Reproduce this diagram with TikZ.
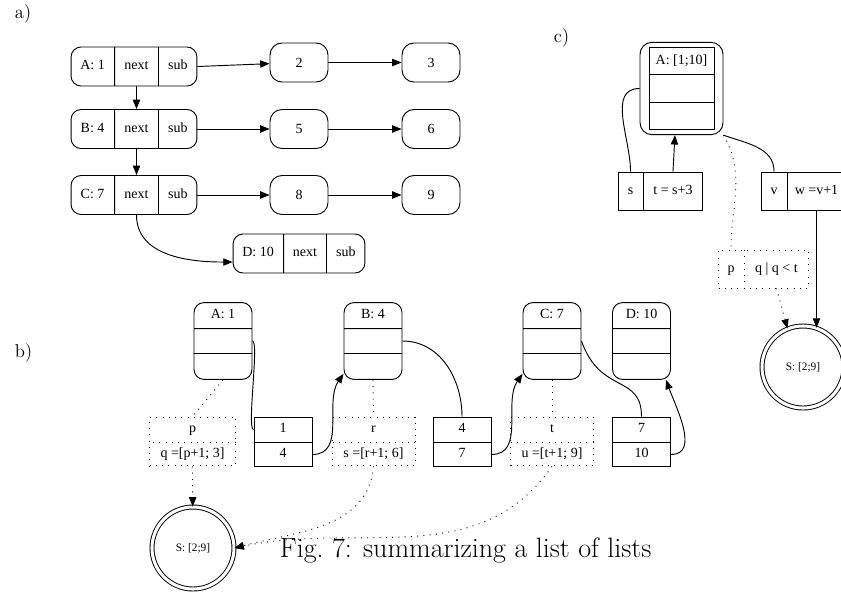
\documentclass[tikz,border=0pt]{standalone}
\usepackage{fontspec}
\newfontfamily\gvfont{Liberation Serif}
\usetikzlibrary{shapes.multipart,arrows.meta,fit}
\newcommand\cellbox[3][29.25pt]{\parbox[c][#1][c]{#2}{\centering\strut #3}}

\begin{document}
\begin{tikzpicture}[x=0.75pt,y=-0.75pt,line width=0.7pt,
    >={Triangle[length=7pt,width=5.5pt]},
    rec/.style={draw,rectangle split,rectangle split parts=3,inner sep=0pt,rounded corners=7.5pt,font=\fontsize{10.5}{12}\gvfont},
    hrec/.style={rec,rectangle split horizontal},
    val/.style={draw,rounded corners=9pt,minimum width=43.5pt,minimum height=29.25pt,inner sep=0pt,font=\fontsize{10.5}{12}\gvfont},
    box/.style={draw,rectangle split,rectangle split parts=2,inner sep=0pt,font=\fontsize{10.5}{12}\gvfont},
    hbox/.style={box,rectangle split horizontal},
    dots/.style={loosely dotted},
    sum/.style={draw,circle,double,double distance=2.3pt,minimum size=61.5pt,inner sep=0pt,font=\fontsize{8.5}{10}\gvfont},
    lab/.style={anchor=base west,font=\fontsize{14}{16}\selectfont}]
    \useasboundingbox (0,0) rectangle (841,597);
    \clip (0,0) rectangle (841,597);
    % a) list of lists
    \node (la) [lab] at (10,18.5) {a)};
    \node (rA) [hrec] at (134,66.5) {\cellbox{32.25pt}{A: 1}\nodepart{two}\cellbox{32.25pt}{next}\nodepart{three}\cellbox{28.5pt}{sub}};
    \node (rB) [hrec] at (134,129) {\cellbox{32.25pt}{B: 4}\nodepart{two}\cellbox{32.25pt}{next}\nodepart{three}\cellbox{28.5pt}{sub}};
    \node (rC) [hrec] at (134,195) {\cellbox{32.25pt}{C: 7}\nodepart{two}\cellbox{32.25pt}{next}\nodepart{three}\cellbox{28.5pt}{sub}};
    \node (rD) [hrec] at (299,253.5) {\cellbox{37.5pt}{D: 10}\nodepart{two}\cellbox{31.5pt}{next}\nodepart{three}\cellbox{28.5pt}{sub}};
    \node (v2) [val] at (299,62.5) {2};
    \node (v3) [val] at (431,62.5) {3};
    \node (v5) [val] at (299,129) {5};
    \node (v6) [val] at (431,129) {6};
    \node (v8) [val] at (299,195) {8};
    \node (v9) [val] at (431,195) {9};
    \draw[->] (rA.east) -- (v2);
    \draw[->] (v2) -- (v3);
    \draw[->] (rB.east) -- (v5);
    \draw[->] (v5) -- (v6);
    \draw[->] (rC.east) -- (v8);
    \draw[->] (v8) -- (v9);
    \draw[->] (rA.two south) -- (rB.two north);
    \draw[->] (rB.two south) -- (rC.two north);
    \draw[->] (rC.two south) to[out=-90,in=180] ([yshift=-6.4pt]rD.west);
    % b) summaries per node
    \node (lb) [lab] at (10,357) {b)};
    \node (bA) [rec] at (223,341) {\cellbox[18.75pt]{43.5pt}{A: 1}\nodepart{two}\cellbox[18pt]{43.5pt}{}\nodepart{three}\cellbox[18.75pt]{43.5pt}{}};
    \node (bB) [rec] at (373,341) {\cellbox[18.75pt]{43.5pt}{B: 4}\nodepart{two}\cellbox[18pt]{43.5pt}{}\nodepart{three}\cellbox[18.75pt]{43.5pt}{}};
    \node (bC) [rec] at (552,341) {\cellbox[18.75pt]{43.5pt}{C: 7}\nodepart{two}\cellbox[18pt]{43.5pt}{}\nodepart{three}\cellbox[18.75pt]{43.5pt}{}};
    \node (bD) [rec] at (641.5,341) {\cellbox[18.75pt]{43.5pt}{D: 10}\nodepart{two}\cellbox[18pt]{43.5pt}{}\nodepart{three}\cellbox[18.75pt]{43.5pt}{}};
    \node (bp) [box,dots] at (192.5,441.5) {\cellbox[18pt]{64.5pt}{p}\nodepart{two}\cellbox[17.25pt]{64.5pt}{q =[p+1; 3]}};
    \node (b14) [box] at (283,442) {\cellbox[18pt]{43.5pt}{1}\nodepart{two}\cellbox[18pt]{43.5pt}{4}};
    \node (br) [box,dots] at (373.5,441.5) {\cellbox[18pt]{62.25pt}{r}\nodepart{two}\cellbox[17.25pt]{62.25pt}{s =[r+1; 6]}};
    \node (b47) [box] at (462,442) {\cellbox[18pt]{43.5pt}{4}\nodepart{two}\cellbox[18pt]{43.5pt}{7}};
    \node (bt) [box,dots] at (552,441.5) {\cellbox[18pt]{62.25pt}{t}\nodepart{two}\cellbox[17.25pt]{62.25pt}{u =[t+1; 9]}};
    \node (b710) [box] at (641.5,442) {\cellbox[18pt]{43.5pt}{7}\nodepart{two}\cellbox[18pt]{43.5pt}{10}};
    \node (bS) [sum] at (193,548) {S: [2;9]};
    \draw (bA.two east) to[out=0,in=180,looseness=0.2] (b14.one west);
    \draw[->] (b14.two east) to[out=0,in=-125] ([yshift=4.5pt]bB.south west);
    \draw (bB.two east) to[out=0,in=90] (b47.north);
    \draw[->] (b47.two east) to[out=0,in=-125] ([yshift=4.5pt]bC.south west);
    \draw (bC.two east) .. controls +(19,54) and +(0,-43) .. (b710.north);
    \draw[->] (b710.two east) to[out=0,in=-70] ([xshift=-3.75pt]bD.south east);
    \draw[dots] (bA.south) -- (bp.north);
    \draw[dots,->] (bp.south) -- (bS);
    \draw[dots] (bB.south) -- (br.north);
    \draw[dots,->] (br.south) to[out=-95,in=15] (bS.east);
    \draw[dots] (bC.south) -- (bt.north);
    \draw[dots,->] (bt.south) to[out=-125,in=12] (bS.east);
    \node (cap) [anchor=base west,font=\fontsize{21}{25}\selectfont] at (275,557) {Fig.~7: summarizing a list of lists};
    % c) one summary for the whole list
    \node (lc) [lab] at (549,42) {c)};
    \node (cA) [rec,sharp corners] at (681.5,88.5) {\cellbox[19.5pt]{48.75pt}{A: [1;10]}\nodepart{two}\cellbox[20.25pt]{48.75pt}{}\nodepart{three}\cellbox[19.5pt]{48.75pt}{}};
    \node (cAo) [draw,rounded corners=9pt,fit=(cA),inner xsep=6.4pt,inner ysep=3.6pt] {};
    \node (cst) [hbox] at (660.5,191) {\cellbox[28.5pt]{18pt}{s}\nodepart{two}\cellbox[28.5pt]{44.25pt}{t = s+3}};
    \node (cvw) [hbox] at (803.5,191) {\cellbox[28.5pt]{18.75pt}{v}\nodepart{two}\cellbox[28.5pt]{43.5pt}{w =v+1}};
    \node (cpq) [hbox,dots] at (763.5,269) {\cellbox[28.5pt]{18.75pt}{p}\nodepart{two}\cellbox[28.5pt]{48pt}{q | q < t}};
    \node (cS) [sum] at (803,367) {S: [2;9]};
    \draw (cAo.west) to[out=180,in=90] (cst.one north);
    \draw[->] (cst.two north) -- (cAo.-98);
    \draw (cAo.south east) to[out=-20,in=90] (cvw.one north);
    \draw[dots] (cAo.south east) to[out=-60,in=90] (cpq.one north);
    \draw[dots,->] (cpq.two south) -- (cS.112);
    \draw[->] (cvw.two south) -- (cS.71);
  \end{tikzpicture}
\end{document}
